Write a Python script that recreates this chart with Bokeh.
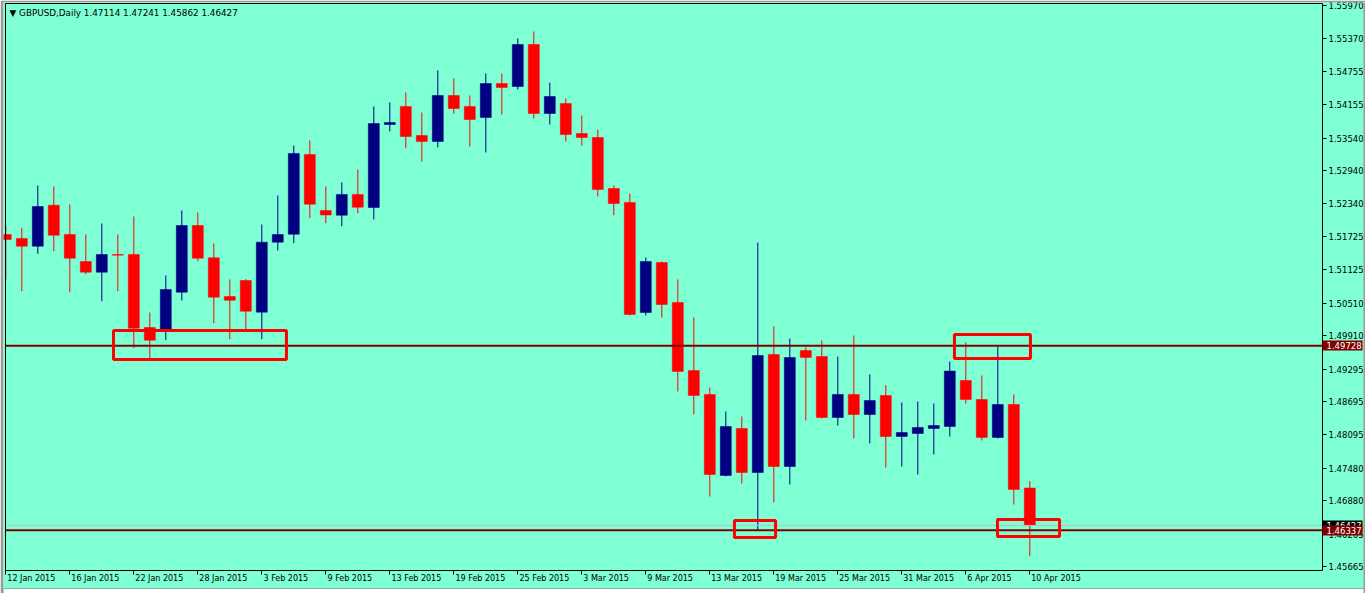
from bokeh.plotting import figure
from bokeh.models import (FixedTicker, NumeralTickFormatter, Label, Range1d, BoxAnnotation,
                          LinearAxis, CustomJSTickFormatter)
from bokeh.embed import file_html
from bokeh.resources import INLINE

# ---------------- data ----------------
dates = [
    "12 Jan 2015", "13 Jan 2015", "14 Jan 2015", "15 Jan 2015", "16 Jan 2015",
    "19 Jan 2015", "20 Jan 2015", "21 Jan 2015", "22 Jan 2015", "23 Jan 2015",
    "26 Jan 2015", "27 Jan 2015", "28 Jan 2015", "29 Jan 2015", "30 Jan 2015",
    "2 Feb 2015", "3 Feb 2015", "4 Feb 2015", "5 Feb 2015", "6 Feb 2015",
    "9 Feb 2015", "10 Feb 2015", "11 Feb 2015", "12 Feb 2015", "13 Feb 2015",
    "16 Feb 2015", "17 Feb 2015", "18 Feb 2015", "19 Feb 2015", "20 Feb 2015",
    "23 Feb 2015", "24 Feb 2015", "25 Feb 2015", "26 Feb 2015", "27 Feb 2015",
    "2 Mar 2015", "3 Mar 2015", "4 Mar 2015", "5 Mar 2015", "6 Mar 2015",
    "9 Mar 2015", "10 Mar 2015", "11 Mar 2015", "12 Mar 2015", "13 Mar 2015",
    "16 Mar 2015", "17 Mar 2015", "18 Mar 2015", "19 Mar 2015", "20 Mar 2015",
    "23 Mar 2015", "24 Mar 2015", "25 Mar 2015", "26 Mar 2015", "27 Mar 2015",
    "30 Mar 2015", "31 Mar 2015", "1 Apr 2015", "2 Apr 2015", "3 Apr 2015",
    "6 Apr 2015", "7 Apr 2015", "8 Apr 2015", "9 Apr 2015", "10 Apr 2015",
]

opens = [
    1.51770, 1.51697, 1.51555, 1.52308, 1.51770, 1.51274, 1.51078, 1.51403, 1.51403, 1.50062,
    1.50025, 1.50710, 1.51935, 1.51342, 1.50631, 1.50925, 1.50343, 1.51629, 1.51775, 1.53239,
    1.52211, 1.52124, 1.52505, 1.52266, 1.53790, 1.54121, 1.53588, 1.53478, 1.54323, 1.54121,
    1.53919, 1.54543, 1.54488, 1.55259, 1.53992, 1.54176, 1.53625, 1.53551, 1.52615, 1.52358,
    1.50337, 1.51256, 1.50521, 1.49272, 1.48832, 1.47344, 1.48207, 1.47399, 1.49566, 1.47509,
    1.49640, 1.49529, 1.48409, 1.48832, 1.48464, 1.48813, 1.48060, 1.48115, 1.48207, 1.48244,
    1.49089, 1.48740, 1.48042, 1.48648, 1.47114,
]
highs = [
    1.51917, 1.51893, 1.52670, 1.52651, 1.52321, 1.51770, 1.51972, 1.51770, 1.52101, 1.50337,
    1.51017, 1.52211, 1.52174, 1.51605, 1.50944, 1.50949, 1.51954, 1.52486, 1.53404, 1.53496,
    1.52651, 1.52725, 1.52964, 1.54121, 1.54194, 1.54378, 1.54010, 1.54782, 1.54635, 1.54323,
    1.54727, 1.54727, 1.55370, 1.55498, 1.54561, 1.54268, 1.53955, 1.53698, 1.52670, 1.52523,
    1.51348, 1.51274, 1.50944, 1.50246, 1.48960, 1.48519, 1.48428, 1.51623, 1.50080, 1.49860,
    1.49698, 1.49823, 1.49529, 1.49915, 1.49199, 1.49003, 1.48685, 1.48703, 1.48666, 1.49437,
    1.49787, 1.49180, 1.49713, 1.48832, 1.47241,
]
lows = [
    1.50949, 1.50729, 1.51416, 1.51463, 1.50710, 1.51041, 1.50545, 1.50729, 1.49682, 1.49487,
    1.49829, 1.50558, 1.51280, 1.50141, 1.49847, 1.50007, 1.49847, 1.51476, 1.51610, 1.52069,
    1.51977, 1.51922, 1.52161, 1.52045, 1.53662, 1.53355, 1.53111, 1.53368, 1.53992, 1.53386,
    1.53276, 1.53974, 1.54433, 1.53900, 1.53790, 1.53478, 1.53404, 1.52468, 1.52124, 1.50282,
    1.50282, 1.50246, 1.48887, 1.48464, 1.46958, 1.47326, 1.47197, 1.46334, 1.46848, 1.47179,
    1.48354, 1.48391, 1.48262, 1.48024, 1.47932, 1.47491, 1.47509, 1.47362, 1.47730, 1.48060,
    1.48666, 1.47987, 1.48024, 1.46811, 1.45862,
]
closes = [
    1.51678, 1.51555, 1.52284, 1.51757, 1.51335, 1.51078, 1.51403, 1.51390, 1.50049, 1.49829,
    1.50760, 1.51935, 1.51335, 1.50618, 1.50563, 1.50361, 1.51629, 1.51770, 1.53258, 1.52326,
    1.52128, 1.52505, 1.52271, 1.53808, 1.53827, 1.53570, 1.53478, 1.54323, 1.54084, 1.53882,
    1.54543, 1.54470, 1.55259, 1.53992, 1.54304, 1.53606, 1.53551, 1.52596, 1.52339, 1.50301,
    1.51274, 1.50484, 1.49254, 1.48813, 1.47362, 1.48244, 1.47399, 1.49548, 1.47509, 1.49511,
    1.49511, 1.48409, 1.48832, 1.48464, 1.48721, 1.48060, 1.48134, 1.48226, 1.48262, 1.49262,
    1.48740, 1.48042, 1.48648, 1.47087, 1.46427,
]

price_ticks = [1.55970, 1.55370, 1.54755, 1.54155, 1.53540, 1.52940, 1.52340, 1.51725,
               1.51125, 1.50510, 1.49910, 1.49295, 1.48695, 1.48095, 1.47480, 1.46880,
               1.46265, 1.45665]
date_tick_step = 4
level_lines = [1.49728, 1.46337]
bid_price = 1.46427
title_text = "\u25bc GBPUSD,Daily  1.47114 1.47241 1.45862 1.46427"

# highlighted zones (bar index / price)
zone_left = [6.73, 59.29, 45.54, 61.98]
zone_right = [17.54, 64.04, 48.11, 65.86]
zone_bottom = [1.49474, 1.49493, 1.46205, 1.46224]
zone_top = [1.50007, 1.49933, 1.46518, 1.46536]

# ---------------- styling / layout ----------------
BG = "#7FFFD4"
BULL = "#000080"
BEAR = "#FF0000"
LEVEL = "#800000"
WINDOW = "#9A9A9A"
FONT = "DejaVu Sans"

W, H = 1365, 593
BL, BT = 3, 2                 # plot frame covers the rest of the canvas
BAR_PX = 16.0                 # pixels per bar
PX_PER_PRICE = 5445.0         # pixels per 1.0 of price
X_REF_PX, Y_REF_PX, Y_REF_PRICE = 5.3, 5.3, 1.55970   # bar 0 centre / top tick position


def px_x(px):
    return (px - X_REF_PX) / BAR_PX


def px_y(py):
    return Y_REF_PRICE - (py - Y_REF_PX) / PX_PER_PRICE


CHART_L, CHART_T, CHART_R, CHART_B = 5, 3, 1322, 570   # visible chart box (canvas px)

p = figure(width=W, height=H, output_backend="svg", toolbar_location=None,
           x_range=Range1d(px_x(BL), px_x(W)), y_range=Range1d(px_y(H), px_y(BT)),
           x_axis_location=None, y_axis_location=None,
           min_border_left=BL, min_border_top=BT, min_border_right=0, min_border_bottom=0)
p.background_fill_color = BG
p.border_fill_color = WINDOW
p.outline_line_color = None
for g in p.grid:
    g.visible = False

xl, xr = px_x(CHART_L), px_x(CHART_R)
yt, yb = px_y(CHART_T), px_y(CHART_B)

# ---------- candles ----------
idx = list(range(len(dates)))
colors = [BULL if c >= o else BEAR for o, c in zip(opens, closes)]
tops = [max(o, c) for o, c in zip(opens, closes)]
bots = [min(o, c) for o, c in zip(opens, closes)]

p.segment(x0=idx, y0=highs, x1=idx, y1=lows, line_color=colors, line_width=1)
p.vbar(x=idx, width=11 / BAR_PX, top=tops, bottom=bots, fill_color=colors,
       line_color=colors, line_width=0.5)

# ---------- horizontal price lines ----------
p.segment(x0=[xl], x1=[xr], y0=[bid_price], y1=[bid_price], line_color="#C0C0C0", line_width=1)
p.segment(x0=[xl] * len(level_lines), x1=[xr] * len(level_lines), y0=level_lines,
          y1=level_lines, line_color=LEVEL, line_width=2)

p.quad(left=zone_left, right=zone_right, bottom=zone_bottom, top=zone_top,
       fill_alpha=0, line_color="#FF0000", line_width=3)


def bare_axis(**kw):
    base = dict(major_tick_out=0, major_tick_in=0, minor_tick_out=0, minor_tick_in=0,
                major_label_text_color=None, axis_line_color=None,
                ticker=FixedTicker(ticks=[]))
    base.update(kw)
    return LinearAxis(**base)


# chart box: left and top edges
p.add_layout(bare_axis(fixed_location=xl, bounds=(yb, yt), axis_line_color="black"), "left")
p.add_layout(bare_axis(fixed_location=yt, bounds=(xl, xr), axis_line_color="black"), "above")

# ---------- price scale (right) ----------
ya = LinearAxis(fixed_location=xr, bounds=(yb, yt), ticker=FixedTicker(ticks=price_ticks),
                formatter=NumeralTickFormatter(format="0.00000"),
                major_tick_out=4, major_tick_in=0, minor_tick_out=0, minor_tick_in=0,
                major_label_standoff=2, major_label_text_font=FONT,
                major_label_text_font_size="8.5px", major_label_text_color="black",
                axis_line_color="black")
p.add_layout(ya, "right")


def price_box(values, fill):
    box = bare_axis(fixed_location=xr, ticker=FixedTicker(ticks=values),
                    major_tick_out=40, major_tick_line_width=10,
                    major_tick_line_color=fill, major_tick_line_cap="butt")
    txt = bare_axis(fixed_location=xr, ticker=FixedTicker(ticks=values),
                    formatter=NumeralTickFormatter(format="0.00000"),
                    major_label_standoff=4, major_label_text_font=FONT,
                    major_label_text_font_size="8.5px", major_label_text_color="white")
    p.add_layout(box, "right")
    p.add_layout(txt, "right")


price_box([bid_price], "black")
price_box(level_lines, LEVEL)

# ---------- time scale (bottom) ----------
tick_idx = list(range(0, len(dates), date_tick_step))
tick_labels = [dates[i] for i in tick_idx]

xa = bare_axis(fixed_location=yb, bounds=(xl, xr), ticker=FixedTicker(ticks=tick_idx),
               major_tick_out=4, axis_line_color="black")
p.add_layout(xa, "below")

# labels start just right of their tick: centre them half a label width further right
DJV = {"0": .636, "1": .636, "2": .636, "3": .636, "4": .636, "5": .636, "6": .636,
       "7": .636, "8": .636, "9": .636, " ": .318, "J": .295, "a": .613, "n": .634,
       "F": .575, "e": .615, "b": .635, "M": .863, "r": .411, "A": .684, "p": .635}
LBL_PX = 8.0


def text_w(s):
    return sum(DJV.get(ch, .6) for ch in s) * LBL_PX


label_pos = [i + (1.5 + text_w(t) / 2) / BAR_PX for i, t in zip(tick_idx, tick_labels)]
lab_axis = bare_axis(fixed_location=yb, ticker=FixedTicker(ticks=label_pos),
                     formatter=CustomJSTickFormatter(
                         args=dict(pos=label_pos, labels=tick_labels),
                         code="""
                         let k = 0;
                         for (let j = 0; j < pos.length; j++) {
                           if (Math.abs(pos[j] - tick) < 1e-6) { k = j; }
                         }
                         return labels[k];
                         """),
                     major_label_standoff=3, major_label_text_font=FONT,
                     major_label_text_font_size="8px", major_label_text_color="black")
p.add_layout(lab_axis, "below")

# ---------- title ----------
p.add_layout(Label(x=px_x(9), y=px_y(12), text=title_text,
                   text_font=FONT, text_font_size="8.8px", text_color="black",
                   text_align="left", text_baseline="middle"))

# window edges: strip at the very bottom and border at the right
p.add_layout(BoxAnnotation(top=px_y(588), fill_color="white", fill_alpha=1,
                           line_color="black", line_width=1))
p.add_layout(BoxAnnotation(left=px_x(1363), fill_color=WINDOW, fill_alpha=1,
                           line_color=None))

open("out.html", "w").write(file_html(p, INLINE))
